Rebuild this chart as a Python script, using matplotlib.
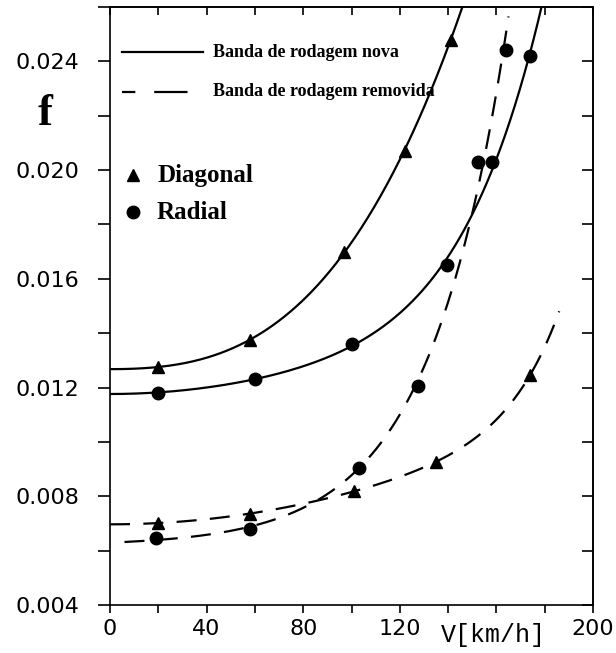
import numpy as np
import matplotlib
matplotlib.use("Agg")
import matplotlib.pyplot as plt
from matplotlib.lines import Line2D

# ---- data ----
v_diag_new = [20, 58, 97, 122, 141]
f_diag_new = [0.01276, 0.01375, 0.0170, 0.0207, 0.0248]

v_rad_new = [20, 60, 100, 139.5, 158, 174]
f_rad_new = [0.0118, 0.01232, 0.0136, 0.0165, 0.0203, 0.0242]

v_diag_worn = [20, 58, 101, 135, 174]
f_diag_worn = [0.00702, 0.00735, 0.0082, 0.00926, 0.01247]

v_rad_worn = [19, 58, 103, 127.5, 152.5, 164]
f_rad_worn = [0.00647, 0.0068, 0.00904, 0.01206, 0.0203, 0.02443]

# extent of each fitted curve (km/h)
range_diag_new = [0, 150]
range_rad_new = [0, 190]
range_diag_worn = [0, 186]
range_rad_worn = [6, 165]

x_ticks_major = [0, 40, 80, 120, 200]
x_ticklabels = ["0", "40", "80", "120", "200"]
y_ticks_major = [0.004, 0.008, 0.012, 0.016, 0.020, 0.024]
y_ticklabels = ["0.004", "0.008", "0.012", "0.016", "0.020", "0.024"]

legend_labels = ["Banda de rodagem nova", "Banda de rodagem removida"]
marker_labels = ["Diagonal", "Radial"]


def fit_curve(v, f, vr, model):
    """Relative least-squares fit (x = V/100):
    'pow'  : f = a + b*x^2 + c*x^p
    'exp'  : f = a + b*exp(k*x)"""
    v = np.asarray(v, float)
    f = np.asarray(f, float)
    x = v / 100.0
    w = 1.0 / f

    def basis(s, xx):
        if model == "pow":
            return np.column_stack([np.ones_like(xx), xx ** 2, xx ** s])
        return np.column_stack([np.ones_like(xx), np.exp(s * xx)])

    grid = np.linspace(2.5, 10.0, 151) if model == "pow" else np.linspace(0.5, 8.0, 301)
    best = None
    for s in grid:
        A = basis(s, x)
        coef, *_ = np.linalg.lstsq(A * w[:, None], f * w, rcond=None)
        r = np.sum(((A @ coef - f) * w) ** 2)
        if best is None or r < best[0]:
            best = (r, s, coef)
    _, s, coef = best
    vv = np.linspace(vr[0], vr[1], 400)
    return vv, basis(s, vv / 100.0) @ coef


fig = plt.figure(figsize=(6.16, 6.53), dpi=100)
ax = fig.add_axes([0.1786, 0.0735, 0.7841, 0.9158])

lw = 1.6
dash = (0, (9, 6))
msz_c = 9
msz_t = 8

for v, f, vr, model, ls, mk, ms in [
    (v_diag_new, f_diag_new, range_diag_new, "pow", "-", "^", msz_t),
    (v_rad_new, f_rad_new, range_rad_new, "pow", "-", "o", msz_c),
    (v_diag_worn, f_diag_worn, range_diag_worn, "pow", dash, "^", msz_t),
    (v_rad_worn, f_rad_worn, range_rad_worn, "exp", dash, "o", msz_c),
]:
    vv, ff = fit_curve(v, f, vr, model)
    ax.plot(vv, ff, color="black", lw=lw, linestyle=ls)
    ax.plot(v, f, linestyle="none", marker=mk, color="black", markersize=ms)

ax.set_xlim(0, 200)
ax.set_ylim(0.004, 0.026)

ax.set_xticks(x_ticks_major)
ax.set_xticklabels(x_ticklabels)
ax.set_xticks(np.arange(0, 201, 20), minor=True)
ax.set_yticks(y_ticks_major)
ax.set_yticklabels(y_ticklabels)
ax.set_yticks(np.arange(0.004, 0.0261, 0.002), minor=True)

for lab in ax.get_xticklabels() + ax.get_yticklabels():
    lab.set_fontsize(16)
    lab.set_fontfamily("DejaVu Sans")

ax.tick_params(axis="y", which="both", direction="out", length=9, width=1.2, pad=13)
ax.tick_params(axis="x", which="both", direction="out", length=6, width=1.2, pad=4)

secx = ax.secondary_xaxis("top")
secx.set_xticks(np.arange(0, 201, 20))
secx.tick_params(direction="in", length=6, width=1.2, labeltop=False)
secy = ax.secondary_yaxis("right")
secy.set_yticks(np.arange(0.004, 0.0261, 0.002))
secy.tick_params(direction="in", length=8, width=1.2, labelright=False)

for s in list(ax.spines.values()) + [secx.spines["top"], secy.spines["right"]]:
    s.set_linewidth(1.2)

# axis labels
ax.text(0.793, -0.05, "V[km/h]", transform=ax.transAxes, ha="center", va="center",
        fontsize=18, family="Liberation Mono")
fig.text(0.073, 0.825, "f", ha="center", va="center", fontsize=32,
         family="Liberation Serif", weight="bold")

# legend (line styles)
ax.add_line(Line2D([0.0248, 0.1925], [0.9247, 0.9247], transform=ax.transAxes,
                   color="black", lw=lw))
ax.add_line(Line2D([0.0248, 0.1925], [0.858, 0.858], transform=ax.transAxes,
                   color="black", lw=lw, linestyle=(0, (6, 8.5, 9, 0))))
ax.text(0.213, 0.9247, legend_labels[0], transform=ax.transAxes, ha="left", va="center",
        fontsize=13, family="Liberation Serif", weight="bold")
ax.text(0.213, 0.858, legend_labels[1], transform=ax.transAxes, ha="left", va="center",
        fontsize=13, family="Liberation Serif", weight="bold")

# legend (markers)
ax.plot([0.0476], [0.719], marker="^", color="black", markersize=msz_t,
        transform=ax.transAxes, linestyle="none")
ax.plot([0.0476], [0.657], marker="o", color="black", markersize=msz_c,
        transform=ax.transAxes, linestyle="none")
ax.text(0.0973, 0.719, marker_labels[0], transform=ax.transAxes, ha="left", va="center",
        fontsize=18, family="Liberation Serif", weight="bold")
ax.text(0.0973, 0.657, marker_labels[1], transform=ax.transAxes, ha="left", va="center",
        fontsize=18, family="Liberation Serif", weight="bold")

fig.savefig("out.png", dpi=100)
